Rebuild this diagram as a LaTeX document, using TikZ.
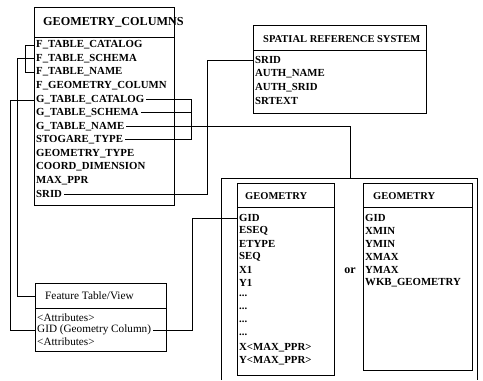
\documentclass[tikz,border=0pt]{standalone}
\usepackage{fontspec}
\setmainfont{Liberation Serif}
\begin{document}
\begin{tikzpicture}[x=1pt,y=-1pt,
  rowb/.style={anchor=west, inner xsep=2pt, inner ysep=0pt, font=\fontsize{10.8}{12}\selectfont\bfseries},
  rowr/.style={anchor=west, inner xsep=2pt, inner ysep=0pt, font=\fontsize{11.2}{12}\selectfont},
  hdrb/.style={anchor=west, inner sep=0pt, font=\fontsize{10.5}{12}\selectfont\bfseries},
  hdrr/.style={anchor=west, inner sep=0pt, font=\fontsize{11.3}{12}\selectfont},
  tbox/.style={draw, line width=0.9pt, anchor=north west, inner sep=0pt},
  sep/.style={line width=0.9pt},
  conn/.style={line width=0.75pt}]
\useasboundingbox (0,0) rectangle (483,381);

% ---------- GEOMETRY_COLUMNS ----------
\node[tbox, minimum width=140pt, minimum height=198pt] (gcbox) at (34,7) {};
\draw[sep] (34,37) -- (174,37);
\node[hdrb, font=\fontsize{12.2}{13}\selectfont\bfseries] (gch) at (43,22) {GEOMETRY\_COLUMNS};
\node[rowb] (ftc) at (34,45.0) {F\_TABLE\_CATALOG};
\node[rowb] (fts) at (34,58.5) {F\_TABLE\_SCHEMA};
\node[rowb] (ftn) at (34,72.1) {F\_TABLE\_NAME};
\node[rowb] (fgc) at (34,85.6) {F\_GEOMETRY\_COLUMN};
\node[rowb] (gtc) at (34,99.2) {G\_TABLE\_CATALOG};
\node[rowb] (gts) at (34,112.7) {G\_TABLE\_SCHEMA};
\node[rowb] (gtn) at (34,126.3) {G\_TABLE\_NAME};
\node[rowb] (stt) at (34,139.8) {STOGARE\_TYPE};
\node[rowb] (gty) at (34,153.4) {GEOMETRY\_TYPE};
\node[rowb] (cdm) at (34,166.9) {COORD\_DIMENSION};
\node[rowb] (mpp) at (34,180.5) {MAX\_PPR};
\node[rowb] (srid) at (34,194.0) {SRID};

% ---------- SPATIAL REFERENCE SYSTEM ----------
\node[tbox, minimum width=173pt, minimum height=88pt] (srsbox) at (253,25) {};
\draw[sep] (253,50) -- (426,50);
\node[hdrb] (srsh) at (263,39) {SPATIAL REFERENCE SYSTEM};
\node[rowb] (ssrid) at (253,60) {SRID};
\node[rowb] (sauth) at (253,73.7) {AUTH\_NAME};
\node[rowb] (sasrid) at (253,87.3) {AUTH\_SRID};
\node[rowb] (ssrt) at (253,101) {SRTEXT};

% ---------- Feature Table/View ----------
\node[tbox, minimum width=131pt, minimum height=68pt] (fbox) at (35,283) {};
\draw[sep] (35,308) -- (166,308);
\node[hdrr] (fth) at (45,296) {Feature Table/View};
\node[rowr] (fat1) at (35,318) {<Attributes>};
\node[rowr] (fgid) at (35,330) {GID (Geometry Column)};
\node[rowr] (fat2) at (35,342) {<Attributes>};

% ---------- outer container ----------
\draw[sep] (221,380) -- (221,178) -- (477,178) -- (477,380);

% ---------- GEOMETRY (1) ----------
\node[tbox, minimum width=97pt, minimum height=192pt] (g1box) at (237,183) {};
\draw[sep] (237,207) -- (334,207);
\node[hdrb] (g1h) at (245,196) {GEOMETRY};
\node[rowb] (g1gid) at (237,218) {GID};
\node[rowb] (g1eseq) at (237,231) {ESEQ};
\node[rowb] (g1ety) at (237,244) {ETYPE};
\node[rowb] (g1seq) at (237,257) {SEQ};
\node[rowb] (g1x1) at (237,270) {X1};
\node[rowb] (g1y1) at (237,283) {Y1};
\node[rowb] (g1d1) at (237,296) {...};
\node[rowb] (g1d2) at (237,309) {...};
\node[rowb] (g1d3) at (237,322) {...};
\node[rowb] (g1d4) at (237,335) {...};
\node[rowb] (g1xm) at (237,348) {X<MAX\_PPR>};
\node[rowb] (g1ym) at (237,361) {Y<MAX\_PPR>};

\node[font=\fontsize{12}{12}\selectfont\bfseries, inner sep=0pt] (orl) at (350,271) {or};

% ---------- GEOMETRY (2) ----------
\node[tbox, minimum width=109pt, minimum height=187pt] (g2box) at (363,183) {};
\draw[sep] (363,207) -- (472,207);
\node[hdrb] (g2h) at (373,196) {GEOMETRY};
\node[rowb] (g2gid) at (363,218) {GID};
\node[rowb] (g2xmin) at (363,231) {XMIN};
\node[rowb] (g2ymin) at (363,244) {YMIN};
\node[rowb] (g2xmax) at (363,257) {XMAX};
\node[rowb] (g2ymax) at (363,270) {YMAX};
\node[rowb] (g2wkb) at (363,283) {WKB\_GEOMETRY};

% ---------- connector helpers ----------
\coordinate (xa) at (25,0);
\coordinate (xb) at (17,0);
\coordinate (xc) at (10,0);
\coordinate (xd) at (191,0);
\coordinate (xe) at (207,0);
\coordinate (xf) at (192,0);
\coordinate (gx) at (191,126);
\coordinate (gtop) at (350,178);

% F_TABLE_* -> Feature Table header
\draw[conn] (ftc.west) -- (ftc.west -| xa) -- (ftn.west -| xa) -- (ftn.west);
\draw[conn] (fts.west) -- (fts.west -| xb) |- (fbox.west |- fth.center);
% G_TABLE_CATALOG -> GID (Geometry Column)
\draw[conn] ([yshift=-1.5pt]gtc.west) -- ([yshift=-1.5pt]gtc.west -| xc) |- (fgid.west);
% G_TABLE_* -> GEOMETRY
\draw[conn] (gtc.east) -- (gtc.east -| xd);
\draw[conn] (gts.east) -- (gts.east -| xd);
\draw[conn] (gtn.east) -- (gtn.east -| xd);
\draw[conn] (stt.east) -- (stt.east -| xd);
\draw[conn] (gtc.east -| xd) -- (stt.east -| xd);
\draw[conn] (gx) -| (gtop);
% SRID -> SRID
\draw[conn] (srid.east) -- (srid.east -| xe) |- (ssrid.west);
% GID -> GID
\draw[conn] (fgid.east) -- (fgid.east -| xf) |- (g1gid.west);
\end{tikzpicture}
\end{document}
